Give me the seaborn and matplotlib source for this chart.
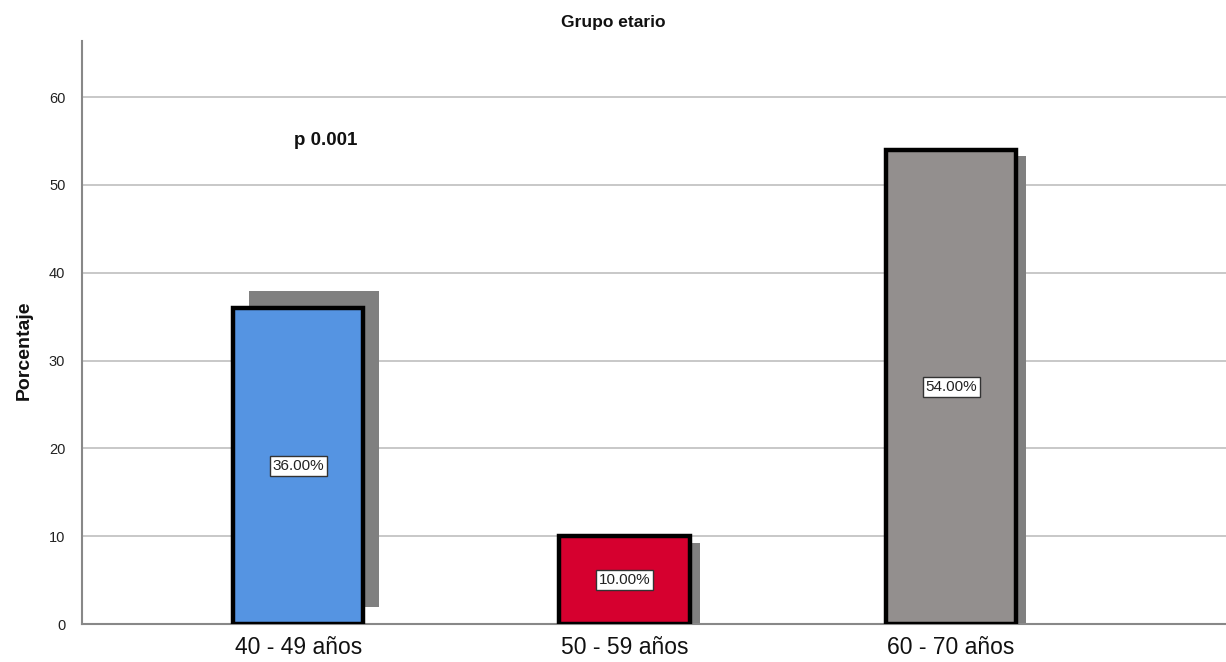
import matplotlib
matplotlib.use("Agg")
import matplotlib.pyplot as plt
import matplotlib.transforms as mtransforms
from matplotlib.patches import Rectangle
import seaborn as sns
import pandas as pd

categories = ["40 - 49 años", "50 - 59 años", "60 - 70 años"]
values = [36.0, 10.0, 54.0]
colors = ["#5594E2", "#D6002F", "#938F8E"]
yticks = [0, 10, 20, 30, 40, 50, 60]
title = "Grupo etario"
ylabel = "Porcentaje"
annotation = "p 0.001"

sns.set_theme(style="white")
plt.rcParams["font.family"] = ["Liberation Sans", "DejaVu Sans"]

fig = plt.figure(figsize=(12.26, 6.62), dpi=100)
ax = fig.add_axes([82 / 1226, 1 - 624 / 662, (1226 - 82) / 1226, (624 - 41) / 662])

df = pd.DataFrame({"cat": categories, "val": values})
sns.barplot(data=df, x="cat", y="val", hue="cat", palette=colors, dodge=False, saturation=1,
            width=0.40, edgecolor="black", linewidth=3.2, legend=False, ax=ax, zorder=3)

# shadows
offsets = [(0.16, 0.17), (0.10, -0.07), (0.10, -0.06)]
bars = [p for p in ax.patches]
for p, (dx, dy) in zip(bars, offsets):
    tr = ax.transData + mtransforms.ScaledTranslation(dx, dy, fig.dpi_scale_trans)
    sh = Rectangle((p.get_x(), p.get_y()), p.get_width(), p.get_height(),
                   transform=tr, facecolor="#808080", edgecolor="none", zorder=2)
    ax.add_patch(sh)

# value labels
for p, v in zip(bars, values):
    ax.text(p.get_x() + p.get_width() / 2, v / 2, f"{v:.2f}%", ha="center", va="center",
            fontsize=11, color="#222222", zorder=5,
            bbox=dict(boxstyle="square,pad=0.18", facecolor="white", edgecolor="#333333", linewidth=1))

ax.set_xlim(-0.662, 2.842)
ax.set_ylim(0, 66.4)
ax.set_yticks(yticks)
ax.set_yticklabels([str(t) for t in yticks], fontsize=10.5, color="#222222")
ax.tick_params(axis="x", labelsize=16.5, length=0, pad=9, labelcolor="#111111")
ax.tick_params(axis="y", length=0, pad=12)
ax.set_xlabel("")
ax.set_ylabel(ylabel, fontsize=14, fontweight="bold", color="#111111")
ax.yaxis.set_label_coords(-0.043, 0.47)

ax.grid(axis="y", color="#C8C8C8", linewidth=1.4)
ax.grid(axis="x", visible=False)
ax.set_axisbelow(True)
for s in ["top", "right"]:
    ax.spines[s].set_visible(False)
for s in ["left", "bottom"]:
    ax.spines[s].set_color("#888888")
    ax.spines[s].set_linewidth(1.5)

ax.text(0.085, 55.1, annotation, ha="center", va="center", fontsize=13.5, fontweight="bold", color="#111111")
fig.text(613 / 1226, 1 - 22 / 662, title, ha="center", va="center", fontsize=12.5, fontweight="bold", color="#111111")

fig.savefig("out.png", dpi=100, facecolor="white")
